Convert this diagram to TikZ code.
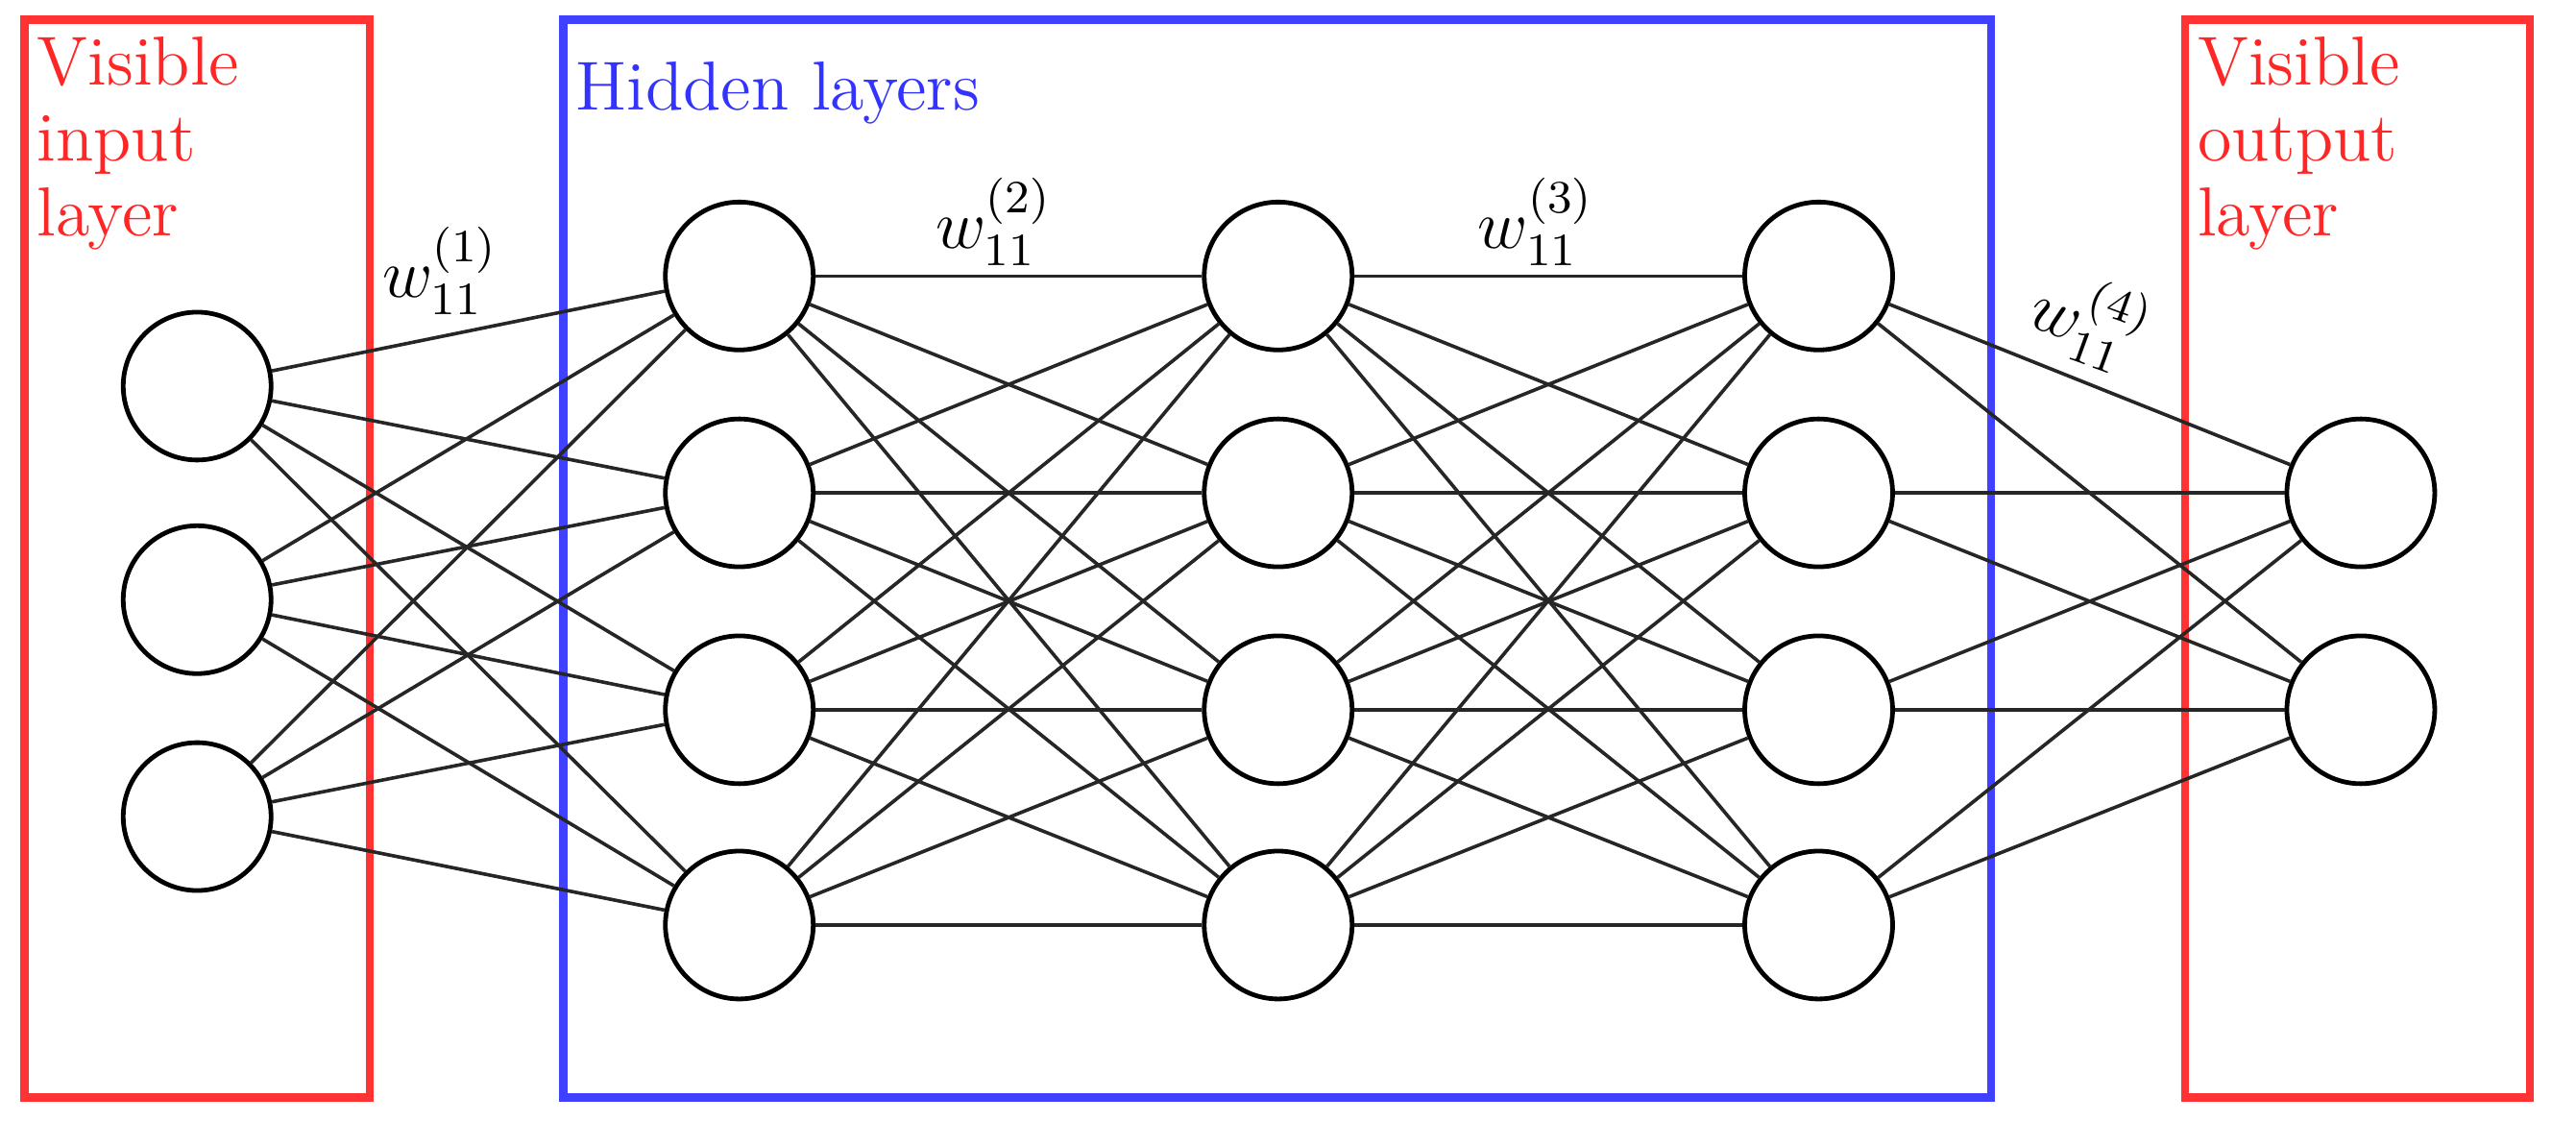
\documentclass[tikz,border=0pt]{standalone}
\usepackage{amsmath}
\usetikzlibrary{calc}
\tikzset{
	myneuron/.style={circle, draw=black, thick, minimum size=0.9cm, inner sep=0pt
				},
	mylayerbox/.style={rectangle, line width=1.4pt
				},
	myedge/.style={black!85, line width=0.6pt
				},
	mylabeltext/.style={anchor=north west, align=left, inner sep=0pt, font=\large
				}
	}

\begin{document}
\begin{tikzpicture}

				\useasboundingbox (0,0) rectangle (15.68,6.97);

				% layer boxes
				\draw[mylayerbox, red!80] (0.15,0.29) rectangle (2.25,6.85);
				\draw[mylayerbox, blue!75] (3.43,0.29) rectangle (12.12,6.85);
				\draw[mylayerbox, red!80] (13.30,0.29) rectangle (15.40,6.85);

				\node[mylabeltext, text=red!85] (inputt) at (0.22,6.75) {Visible\\[-1pt]input\\[-1pt]layer};
				\node[mylabeltext, text=blue!80] (hiddent) at (3.50,6.60) {Hidden layers};
				\node[mylabeltext, text=red!85] (outputt) at (13.37,6.75) {Visible\\[-1pt]output\\[-1pt]layer};

				% neurons
				\foreach \i/\y in {1/4.62, 2/3.32, 3/2.00}
					\node[myneuron] (in\i) at (1.20,\y) {};
				\foreach \i/\y in {1/5.29, 2/3.97, 3/2.65, 4/1.34}{
					\node[myneuron] (ha\i) at (4.50,\y) {};
					\node[myneuron] (hb\i) at (7.78,\y) {};
					\node[myneuron] (hc\i) at (11.07,\y) {};
				}
				\foreach \i/\y in {1/3.97, 2/2.65}
					\node[myneuron] (out\i) at (14.37,\y) {};

				% connections
				\foreach \i in {1,2,3}
					\foreach \j in {1,...,4}
						\draw[myedge] (in\i) -- (ha\j);
				\foreach \i in {1,...,4}
					\foreach \j in {1,...,4}{
						\draw[myedge] (ha\i) -- (hb\j);
						\draw[myedge] (hb\i) -- (hc\j);
					}
				\foreach \i in {1,...,4}
					\foreach \j in {1,2}
						\draw[myedge] (hc\i) -- (out\j);

				% weight labels
				\node[] (w1) at (2.68,5.32) {\large $w_{11}^{(1)}$};
				\node[] (w2) at (6.05,5.62) {\large $w_{11}^{(2)}$};
				\node[] (w3) at (9.35,5.62) {\large $w_{11}^{(3)}$};
				\node[rotate=-20] (w4) at (12.72,5.02) {\large $w_{11}^{(4)}$};

\end{tikzpicture}
\end{document}
